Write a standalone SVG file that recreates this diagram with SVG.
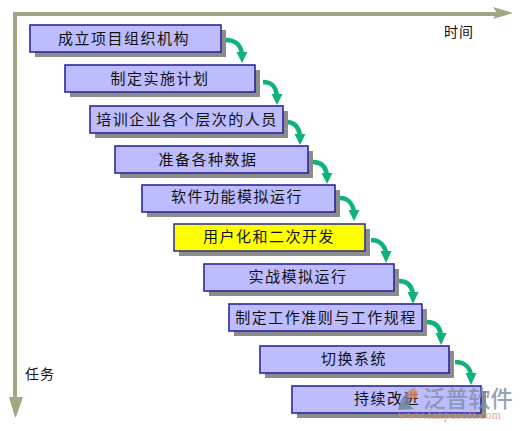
<svg xmlns="http://www.w3.org/2000/svg" width="525" height="431" viewBox="0 0 525 431">
<style>
.s{fill:#8c8c8c}
.b{fill:#bcbcff;stroke:#2a2a9c;stroke-width:1.6}
.y{fill:#ffff00;stroke:#2a2a9c;stroke-width:1.5}
.t{font-family:"Noto Sans CJK SC","Noto Sans CJK JP",sans-serif;font-size:15px;fill:#111;text-anchor:middle;letter-spacing:1.5px}
.a{font-family:"Noto Sans CJK SC",sans-serif;font-size:14px;fill:#111;letter-spacing:1px}
.c{fill:none;stroke:#0fb27a;stroke-width:4.5}
.h{fill:#0fb27a}
.x{fill:none;stroke:#a5a586;stroke-width:4}
.w{fill:#a5a586}
</style>
<rect width="525" height="431" fill="#fff"/>
<g id="axes">
<path class="x" d="M15 408V14H500"/>
<polygon class="w" points="493,7 513,13 493,19 497,13"/>
<polygon class="w" points="9,397 23,397 16,417 15,417"/>
<text class="a" x="444" y="37">时间</text>
<text class="a" x="25" y="379">任务</text>
</g>
<g id="connectors">
<g id="c1"><path class="c" d="M226 40C236 40 241 46 242 54"/><polygon class="h" points="236.500,52 247.500,52 242,63"/></g>
<g id="c2"><path class="c" d="M263 82C273 82 276 88 277 96"/><polygon class="h" points="271.500,94 282.500,94 277,105"/></g>
<g id="c3"><path class="c" d="M286 122C295 122 299 128 300 136"/><polygon class="h" points="294.500,134 305.500,134 300,145"/></g>
<g id="c4"><path class="c" d="M313 162C323 162 326 168 327 175"/><polygon class="h" points="321.500,173 332.500,173 327,184"/></g>
<g id="c5"><path class="c" d="M340 198C349 198 353 205 354 212"/><polygon class="h" points="348.500,210 359.500,210 354,221"/></g>
<g id="c6"><path class="c" d="M371 240C380 240 385 246 386 253"/><polygon class="h" points="380.500,251 391.500,251 386,263"/></g>
<g id="c7"><path class="c" d="M399 281C408 281 412 287 413 294"/><polygon class="h" points="407.500,292 418.500,292 413,304"/></g>
<g id="c8"><path class="c" d="M427 322C436 322 440 328 441 335"/><polygon class="h" points="435.500,333 446.500,333 441,345"/></g>
<g id="c9"><path class="c" d="M455 362C465 362 470 368 471 375"/><polygon class="h" points="465.500,373 476.500,373 471,385"/></g>
</g>
<g id="n1"><rect class="s" x="35" y="30" width="191" height="27"/><rect class="b" x="30" y="25" width="191" height="27"/><text class="t" x="124" y="44">成立项目组织机构</text></g>
<g id="n2"><rect class="s" x="70" y="70" width="190" height="27"/><rect class="b" x="65" y="65" width="190" height="27"/><text class="t" x="160" y="84">制定实施计划</text></g>
<g id="n3"><rect class="s" x="95" y="111" width="193" height="27"/><rect class="b" x="90" y="106" width="193" height="27"/><text class="t" x="187" y="125">培训企业各个层次的人员</text></g>
<g id="n4"><rect class="s" x="120" y="151" width="193" height="27"/><rect class="b" x="115" y="146" width="193" height="27"/><text class="t" x="208" y="165">准备各种数据</text></g>
<g id="n5"><rect class="s" x="147" y="190" width="193" height="27"/><rect class="b" x="142" y="185" width="193" height="27"/><text class="t" x="237" y="202">软件功能模拟运行</text></g>
<g id="n6"><rect class="s" x="179" y="229" width="191" height="27"/><rect class="y" x="174" y="224" width="191" height="27"/><text class="t" x="269" y="242">用户化和二次开发</text></g>
<g id="n7"><rect class="s" x="209" y="269" width="190" height="27"/><rect class="b" x="204" y="264" width="190" height="27"/><text class="t" x="298" y="282">实战模拟运行</text></g>
<g id="n8"><rect class="s" x="234" y="309" width="193" height="27"/><rect class="b" x="229" y="304" width="193" height="27"/><text class="t" x="326" y="323">制定工作准则与工作规程</text></g>
<g id="n9"><rect class="s" x="265" y="351" width="189" height="27"/><rect class="b" x="260" y="346" width="189" height="27"/><text class="t" x="354" y="364">切换系统</text></g>
<g id="n10"><rect class="s" x="297" y="391" width="189" height="27"/><rect class="b" x="292" y="386" width="189" height="27"/><text class="t" x="387" y="404">持续改进</text></g>
<g id="watermark" opacity="0.8">
<path d="M416 387C404 392 399 402 398 410L414 409C407 405 408 396 416 387Z" fill="#6f7f99"/>
<circle cx="413" cy="394" r="5" fill="#e08a60"/>
<text x="423" y="407" font-family="Noto Sans CJK SC,sans-serif" font-size="22.500" font-weight="500" fill="#7d8ea8" letter-spacing="0">泛普软件</text>
<text x="398" y="419" font-family="Liberation Serif,serif" font-size="11.500" fill="#d9926f" letter-spacing="0.600">www.fanpusoft.com</text>
</g>
</svg>
